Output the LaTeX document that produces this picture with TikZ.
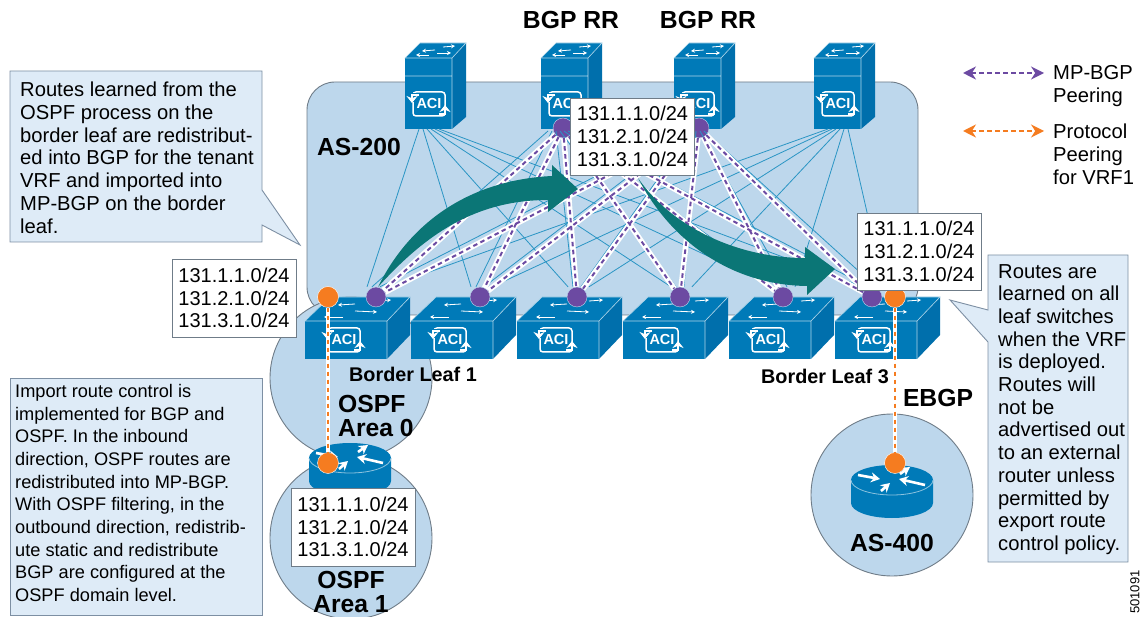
\documentclass[tikz,border=0pt]{standalone}
\usepackage{fontspec}
\setmainfont{Liberation Sans}
\usetikzlibrary{arrows.meta}
\definecolor{asfill}{HTML}{BDD7EC}
\definecolor{edgegray}{HTML}{6F7C88}
\definecolor{notefill}{HTML}{DEEBF7}
\definecolor{notedge}{HTML}{7D8FA3}
\definecolor{ciscoblue}{HTML}{007AB8}
\definecolor{ciscoside}{HTML}{006FAC}
\definecolor{fabricblue}{HTML}{2A95C4}
\definecolor{bgppurple}{HTML}{6C4AA2}
\definecolor{vrforange}{HTML}{F57C20}
\definecolor{bigteal}{HTML}{0B7676}
\tikzset{
    bodyfont/.style = {font=\fontsize{20.2}{22.7}\selectfont},
    routes/.style = {draw=edgegray, fill=white, line width=0.9pt, minimum width=124pt,
        align=left, inner sep=0pt, font=\fontsize{20}{22.7}\selectfont},
    note/.style = {bodyfont, align=left, anchor=north west, inner sep=0pt},
    notebox/.style = {draw=notedge, fill=notefill, line width=0.9pt},
    area/.style = {draw=edgegray, fill=asfill, line width=0.9pt},
    biglabel/.style = {font=\fontsize{24.7}{24.5}\bfseries\selectfont, align=left, inner sep=0pt},
    leaflabel/.style = {font=\fontsize{19.8}{20}\bfseries\selectfont, inner sep=0pt},
    bgpdot/.style = {circle, fill=bgppurple, draw=asfill, line width=0.4pt, minimum size=20pt, inner sep=0pt},
    vrfdot/.style = {circle, fill=vrforange, draw=white, line width=0.4pt, minimum size=21pt, inner sep=0pt},
    fabric/.style = {fabricblue, line width=0.8pt},
    halo/.style = {white, line width=5.5pt},
    bgpline/.style = {bgppurple, line width=2pt, dash pattern=on 4.5pt off 3.5pt},
    vrfline/.style = {vrforange, line width=2.4pt, dash pattern=on 4.5pt off 3.5pt},
    legendline/.style = {line width=1.8pt, {Stealth[length=13pt,width=13pt]}-{Stealth[length=13pt,width=13pt]}},
    wedge/.style = {fill=bigteal, draw=none},
    tiparrow/.style = {white, line width=0.8pt, -{Stealth[length=4pt,width=4pt]}},
    routerarrow/.style = {white, line width=2.6pt, -{Stealth[length=9pt,width=10pt]}},
    acilogo/.pic = {
        \draw [white, line width=1.5pt, rounded corners=3pt] (-16,-12) rectangle (16,12);
        \fill [ciscoblue] (-20,-11) rectangle (-10,-2);
        \fill [ciscoblue] (10,2) rectangle (20,11);
        \draw [white, line width=1.5pt, -{Stealth[length=7pt,width=11pt]}] (-10,-9) -- (-17,-9) -- (-17,-1);
        \draw [white, line width=1.5pt, -{Stealth[length=7pt,width=11pt]}] (10,10) -- (16,10) -- (16,1);
        \node [white, inner sep=0pt, font=\fontsize{14.5}{15}\bfseries\selectfont] (acitext) at (0,0) {ACI};
    },
    spinebox/.pic = {
        \fill [ciscoblue] (0,0) -- (15,-15) -- (61,-15) -- (47,0) -- cycle;
        \fill [ciscoside] (47,0) -- (61,-15) -- (61,59) -- (47,71) -- cycle;
        \fill [ciscoblue] (0,0) rectangle (47,71);
        \draw [white!70!ciscoblue, line width=0.6pt] (0,0) -- (15,-15) -- (61,-15) -- (47,0) -- cycle
            (47,0) -- (47,71) (0,18) -- (47,18);
        \draw [tiparrow] (38,-11) -- (50,-12);
        \draw [tiparrow] (30,-8) -- (17,-7);
        \draw [tiparrow] (32,-5) -- (46,-5);
        \draw [tiparrow] (24,-3) -- (11,-3);
        \pic at (24,46) {acilogo};
    },
    leafbox/.pic = {
        \fill [ciscoblue] (0,0) -- (25,-24) -- (105,-24) -- (82,0) -- cycle;
        \fill [ciscoside] (82,0) -- (105,-24) -- (105,14) -- (82,38) -- cycle;
        \fill [ciscoblue] (0,0) rectangle (82,38);
        \draw [white!70!ciscoblue, line width=0.6pt] (0,0) -- (25,-24) -- (105,-24) -- (82,0) -- cycle
            (82,0) -- (82,38);
        \draw [tiparrow] (72,-20) -- (86,-21);
        \draw [tiparrow] (50,-17) -- (33,-16);
        \draw [tiparrow] (50,-10) -- (72,-9);
        \draw [tiparrow] (38,-4) -- (19,-4);
        \pic at (39,19) {acilogo};
    },
    routerbox/.pic = {
        \fill [ciscoblue] (-41,0) -- (-41,23) arc [start angle=180, end angle=360, x radius=41, y radius=-15]
            -- (41,0) arc [start angle=0, end angle=180, x radius=41, y radius=-15] -- cycle;
        \draw [white!55!ciscoblue, line width=0.8pt] (-41,0) arc [start angle=180, end angle=360, x radius=41, y radius=-15];
        \draw [routerarrow] (-34,-5) -- (-12,-1);
        \draw [routerarrow] (-11,11) -- (-2,3);
        \draw [routerarrow] (33,5) -- (7,-1);
        \draw [routerarrow] (8,-6) -- (18,-13);
    },
}
\begin{document}
\begin{tikzpicture}[x=1pt, y=-1pt]
    \useasboundingbox (0,0) rectangle (1143,617);
    % fabric area and the three round domains
    \draw [area, rounded corners=28pt] (307,315) rectangle (918,82);
    \draw [area] (351,378) circle [radius=81];
    \draw [area] (351,538) circle [radius=81];
    \draw [area] (892,495) circle [radius=81];
    % switches
    \pic at (405,58) {spinebox};
    \pic at (541,58) {spinebox};
    \pic at (674,58) {spinebox};
    \pic at (814,58) {spinebox};
    \foreach \x in {305,411,517,623,729,835} {
        \pic at (\x,321) {leafbox};
    }
    % nodes for the peerings
    \node [bgpdot] (rrdot1) at (563,128) {};
    \node [bgpdot] (rrdot2) at (699,128) {};
    \node [bgpdot] (leafdot1) at (376,297) {};
    \node [bgpdot] (leafdot2) at (480,297) {};
    \node [bgpdot] (leafdot3) at (577,297) {};
    \node [bgpdot] (leafdot4) at (680,297) {};
    \node [bgpdot] (leafdot5) at (783,297) {};
    \node [bgpdot] (leafdot6) at (872,297) {};
    \coordinate (spinefoot1) at (429,129);
    \coordinate (spinefoot2) at (558,131);
    \coordinate (spinefoot3) at (694,131);
    \coordinate (spinefoot4) at (838,129);
    % thin fabric
    \foreach \s/\dx in {1/-9, 2/-4, 3/4, 4/12} {
        \foreach \j in {1,...,6} {
            \draw [fabric] ([xshift={(\j-3.5)*4}]spinefoot\s) -- ([xshift=\dx]leafdot\j.north);
        }
    }
    % MP-BGP sessions
    \foreach \s in {1,2} {
        \foreach \j in {1,...,6} {
            \draw [halo] (rrdot\s) -- (leafdot\j);
        }
    }
    \foreach \s in {1,2} {
        \foreach \j in {1,...,6} {
            \draw [bgpline] (rrdot\s) -- (leafdot\j);
        }
    }
    % big arrows
    \fill [wedge] (378,287) .. controls (410,222) and (470,180) .. (552,176) -- (552,165) -- (578,189)
        -- (548,212) -- (548,200) .. controls (475,200) and (425,235) .. (378,287) -- cycle;
    \fill [wedge] (638,178) .. controls (670,225) and (735,258) .. (805,258) -- (805,247) -- (835,269)
        -- (807,295) -- (807,286) .. controls (730,285) and (670,240) .. (638,178) -- cycle;
    \pic at (350,458) {routerbox};
    \pic at (892,480) {routerbox};
    % protocol peering
    \node [vrfdot] (ospfdot) at (328,297) {};
    \node [vrfdot] (routerdot1) at (328,463) {};
    \node [vrfdot] (ebgpdot) at (895,297) {};
    \node [vrfdot] (routerdot2) at (895,463) {};
    \draw [halo, line width=4.5pt] (ospfdot) -- (routerdot1);
    \draw [vrfline] (ospfdot) -- (routerdot1);
    \draw [halo, line width=4.5pt] (ebgpdot) -- (routerdot2);
    \draw [vrfline] (ebgpdot) -- (routerdot2);
    % white route tables
    \node [routes, minimum height=78pt] (tablea) at (234,298) {131.1.1.0/24\\131.2.1.0/24\\131.3.1.0/24};
    \node [routes, minimum height=77pt] (tableb) at (632.5,136.5) {131.1.1.0/24\\131.2.1.0/24\\131.3.1.0/24};
    \node [routes, minimum height=77pt] (tablec) at (919,251.5) {131.1.1.0/24\\131.2.1.0/24\\131.3.1.0/24};
    \node [routes, minimum height=78pt] (tabled) at (353,527) {131.1.1.0/24\\131.2.1.0/24\\131.3.1.0/24};
    % notes
    \draw [notebox] (10,71) -- (262,71) -- (262,190) -- (300,245) -- (262,225) -- (262,242) -- (10,242) -- cycle;
    \node [note] (notea) at (20,82) {Routes learned from the\\OSPF process on the\\border leaf are redistribut-\\ed into BGP for the tenant\\VRF and imported into\\MP-BGP on the border\\leaf.};
    \draw [notebox] (10,378) rectangle (262,615);
    \node [note, font=\fontsize{18.2}{22.7}\selectfont] (noteb) at (15,384) {Import route control is\\implemented for BGP and\\OSPF. In the inbound\\direction, OSPF routes are\\redistributed into MP-BGP.\\With OSPF filtering, in the\\outbound direction, redistrib-\\ute static and redistribute\\BGP are configured at the\\OSPF domain level.};
    \draw [notebox] (988,255) -- (1128,255) -- (1128,562) -- (988,562) -- (988,342) -- (950,300) -- (988,310) -- cycle;
    \node [note] (notec) at (998,264) {Routes are\\learned on all\\leaf switches\\when the VRF\\is deployed.\\Routes will\\not be\\advertised out\\to an external\\router unless\\permitted by\\export route\\control policy.};
    % labels
    \node [biglabel] (asa) at (359,147) {AS-200};
    \node [biglabel] (rrlabela) at (571,20) {BGP RR};
    \node [biglabel] (rrlabelb) at (708,20) {BGP RR};
    \node [leaflabel] (leaflabela) at (413,374) {Border Leaf 1};
    \node [leaflabel] (leaflabelb) at (825,376) {Border Leaf 3};
    \node [biglabel] (areaa) at (376,416) {OSPF\\Area 0};
    \node [biglabel, align=center] (areab) at (351,592) {OSPF\\Area 1};
    \node [biglabel] (ebgp) at (938,398) {EBGP};
    \node [biglabel] (asb) at (892,543) {AS-400};
    % legend
    \coordinate (legpa) at (963,73);
    \coordinate (legpb) at (1044,73);
    \coordinate (legoa) at (963,131);
    \coordinate (legob) at (1044,131);
    \draw [bgpline, legendline] (legpa) -- (legpb);
    \draw [vrfline, legendline] (legoa) -- (legob);
    \node [note] (legp) at (1053,65) {MP-BGP\\Peering};
    \node [note] (lego) at (1053,124) {Protocol\\Peering\\for VRF1};
    \node [rotate=90, inner sep=0pt, font=\fontsize{13}{14}\selectfont] (figno) at (1135,592) {501091};
\end{tikzpicture}
\end{document}
